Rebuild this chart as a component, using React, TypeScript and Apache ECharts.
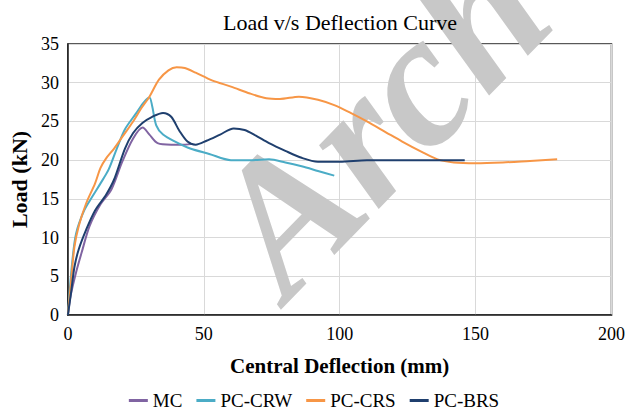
import React, { useEffect, useRef } from "react";
import * as echarts from "echarts";

const seriesNames = ["MC", "PC-CRW", "PC-CRS", "PC-BRS"];
const colors = ["#8064A2", "#4BACC6", "#F79646", "#1F3F6E"];

const mcData = [[0,0],[1,2.5],[3,5.5],[5,8],[8,11.5],[12,14.3],[16,16.2],[20,19.8],[24,22.8],[27.5,24.2],[30,23.3],[33,22.2],[38,22],[43,22],[46,22.1]];
const crwData = [[0,0],[1.5,6.5],[3,10.5],[6,13.5],[9,15.3],[12,17],[15,18.8],[18,21.5],[21,24],[25,26],[28,27.5],[30,28.1],[31,27],[32.5,24.5],[35,23.3],[40,22.3],[45,21.5],[52,20.8],[60,20],[68,20],[74,20.1],[80,19.7],[86,19.2],[92,18.6],[98,18]];
const crsData = [[0,0],[1.2,4.5],[2.4,8.8],[4,11.5],[6.7,14.4],[10,17],[12,19],[14,20.2],[17,21.5],[20,23],[24,25],[27,26.7],[30,28.2],[33.5,30.4],[37,31.6],[40,32],[43,31.9],[47,31.3],[53,30.3],[60,29.5],[67,28.6],[73,28],[78,27.9],[85,28.2],[92,27.8],[98,27.1],[104,26.1],[110,25],[117,23.6],[123,22.4],[130,21.1],[136,20.1],[142,19.7],[150,19.6],[160,19.7],[170,19.9],[180,20.1]];
const brsData = [[0,0],[1.2,3],[2.4,6.2],[4,8.5],[6.7,11],[10,13.5],[14,15.5],[17,17.5],[21,21.5],[24,23.5],[27.4,24.8],[31,25.6],[35,26.1],[38,25.6],[41,23.8],[44,22.4],[47,22],[51,22.5],[56,23.3],[61,24.1],[65,23.9],[69,23.2],[74,22.2],[80,21.2],[86,20.3],[92,19.8],[100,19.8],[110,20],[120,20],[130,20],[146,20]];
const allData = [mcData, crwData, crsData, brsData];

const titleText = "Load v/s Deflection Curve";
const xName = "Central Deflection (mm)";
const yName = "Load (kN)";
const watermark = "Arch";

const FONT = '"Liberation Serif", "Times New Roman", serif';

export default function App() {
  const ref = useRef<HTMLDivElement>(null);
  useEffect(() => {
    if (!ref.current) return;
    const chart = echarts.init(ref.current, undefined, { renderer: "svg" });
    chart.setOption({
      animation: false,
      backgroundColor: "#ffffff",
      title: {
        text: titleText,
        left: 218,
        top: 6,
        textStyle: { fontFamily: FONT, fontSize: 22, fontWeight: "normal", color: "#000" },
      },
      grid: { left: 65, right: 14, top: 44, bottom: 101, show: true, borderColor: "#222", borderWidth: 1.5, backgroundColor: "transparent" },
      xAxis: {
        type: "value",
        min: 0,
        max: 200,
        interval: 50,
        name: xName,
        nameLocation: "middle",
        nameGap: 40,
        nameTextStyle: { fontFamily: FONT, fontSize: 21, fontWeight: "bold", color: "#000" },
        axisLine: { show: true, lineStyle: { color: "#222", width: 1.5 } },
        axisTick: { show: false },
        axisLabel: { fontFamily: FONT, fontSize: 18, color: "#000", margin: 10 },
        splitLine: { show: true, lineStyle: { color: "#d9d9d9", width: 1 } },
      },
      yAxis: {
        type: "value",
        min: 0,
        max: 35,
        interval: 5,
        name: yName,
        nameLocation: "middle",
        nameGap: 37,
        nameTextStyle: { fontFamily: FONT, fontSize: 22, fontWeight: "bold", color: "#000" },
        axisLine: { show: true, lineStyle: { color: "#222", width: 1.5 } },
        axisTick: { show: false },
        axisLabel: { fontFamily: FONT, fontSize: 18, color: "#000", margin: 9 },
        splitLine: { show: true, lineStyle: { color: "#d9d9d9", width: 1 } },
      },
      legend: {
        bottom: 1,
        left: "center",
        itemWidth: 19,
        itemHeight: 3,
        itemGap: 14,
        icon: "rect",
        textStyle: { fontFamily: FONT, fontSize: 19, color: "#000" },
        data: seriesNames,
      },
      graphic: [
        {
          type: "text",
          x: 378,
          y: 118,
          rotation: 0.8,
          z: 1,
          silent: true,
          style: {
            text: watermark,
            fill: "#c8c8c8",
            font: 'italic bold 190px "Liberation Serif", serif',
            textAlign: "center",
            textVerticalAlign: "middle",
          },
        },
      ],
      series: seriesNames.map((n, i) => ({
        name: n,
        type: "line",
        data: allData[i],
        smooth: 0.3,
        showSymbol: false,
        symbol: "none",
        z: 3,
        lineStyle: { color: colors[i], width: 2 },
        itemStyle: { color: colors[i] },
      })),
    });
    return () => chart.dispose();
  }, []);
  return <div ref={ref} style={{ width: 628, height: 416, position: "absolute", left: 0, top: 0 }} />;
}
